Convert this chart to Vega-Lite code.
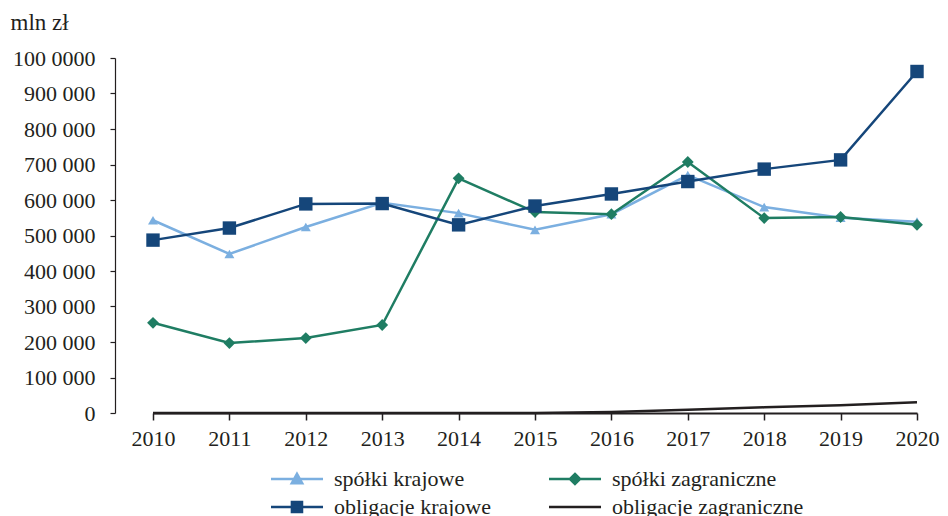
{
  "$schema": "https://vega.github.io/schema/vega-lite/v6.json",
  "autosize": "none",
  "width": 833,
  "height": 355,
  "padding": {"left": 115, "top": 58, "right": 0, "bottom": 103},
  "background": "white",
  "config": {
    "view": {"stroke": null},
    "font": "Liberation Serif",
    "axis": {"labelFont": "Liberation Serif", "titleFont": "Liberation Serif", "labelColor": "#231f20", "titleColor": "#231f20", "domainColor": "#231f20", "tickColor": "#231f20", "grid": false},
    "legend": {"labelFont": "Liberation Serif"}
  },
  "data": {
    "values": [
      {"year": "2010", "series": "spółki krajowe", "value": 543000},
      {"year": "2011", "series": "spółki krajowe", "value": 448000},
      {"year": "2012", "series": "spółki krajowe", "value": 524000},
      {"year": "2013", "series": "spółki krajowe", "value": 592000},
      {"year": "2014", "series": "spółki krajowe", "value": 563000},
      {"year": "2015", "series": "spółki krajowe", "value": 516000},
      {"year": "2016", "series": "spółki krajowe", "value": 560000},
      {"year": "2017", "series": "spółki krajowe", "value": 670000},
      {"year": "2018", "series": "spółki krajowe", "value": 580000},
      {"year": "2019", "series": "spółki krajowe", "value": 550000},
      {"year": "2020", "series": "spółki krajowe", "value": 539000},
      {"year": "2010", "series": "spółki zagraniczne", "value": 254000},
      {"year": "2011", "series": "spółki zagraniczne", "value": 197000},
      {"year": "2012", "series": "spółki zagraniczne", "value": 211000},
      {"year": "2013", "series": "spółki zagraniczne", "value": 248000},
      {"year": "2014", "series": "spółki zagraniczne", "value": 661000},
      {"year": "2015", "series": "spółki zagraniczne", "value": 566000},
      {"year": "2016", "series": "spółki zagraniczne", "value": 560000},
      {"year": "2017", "series": "spółki zagraniczne", "value": 707000},
      {"year": "2018", "series": "spółki zagraniczne", "value": 549000},
      {"year": "2019", "series": "spółki zagraniczne", "value": 552000},
      {"year": "2020", "series": "spółki zagraniczne", "value": 530000},
      {"year": "2010", "series": "obligacje krajowe", "value": 487000},
      {"year": "2011", "series": "obligacje krajowe", "value": 521000},
      {"year": "2012", "series": "obligacje krajowe", "value": 589000},
      {"year": "2013", "series": "obligacje krajowe", "value": 590000},
      {"year": "2014", "series": "obligacje krajowe", "value": 530000},
      {"year": "2015", "series": "obligacje krajowe", "value": 583000},
      {"year": "2016", "series": "obligacje krajowe", "value": 617000},
      {"year": "2017", "series": "obligacje krajowe", "value": 652000},
      {"year": "2018", "series": "obligacje krajowe", "value": 687000},
      {"year": "2019", "series": "obligacje krajowe", "value": 713000},
      {"year": "2020", "series": "obligacje krajowe", "value": 962000},
      {"year": "2010", "series": "obligacje zagraniczne", "value": 0},
      {"year": "2011", "series": "obligacje zagraniczne", "value": 0},
      {"year": "2012", "series": "obligacje zagraniczne", "value": 0},
      {"year": "2013", "series": "obligacje zagraniczne", "value": 0},
      {"year": "2014", "series": "obligacje zagraniczne", "value": 0},
      {"year": "2015", "series": "obligacje zagraniczne", "value": 0},
      {"year": "2016", "series": "obligacje zagraniczne", "value": 3000},
      {"year": "2017", "series": "obligacje zagraniczne", "value": 9000},
      {"year": "2018", "series": "obligacje zagraniczne", "value": 16000},
      {"year": "2019", "series": "obligacje zagraniczne", "value": 22000},
      {"year": "2020", "series": "obligacje zagraniczne", "value": 30000}
    ]
  },
  "encoding": {
    "x": {
      "field": "year", "type": "ordinal",
      "scale": {"type": "point", "range": [38, 802], "padding": 0},
      "axis": {"title": null, "labelAngle": 0, "labelFontSize": 22, "tickSize": 7, "labelPadding": 8, "domainWidth": 2, "tickWidth": 1.5}
    },
    "y": {
      "field": "value", "type": "quantitative",
      "scale": {"domain": [0, 1000000], "nice": false},
      "axis": {
        "values": [0, 100000, 200000, 300000, 400000, 500000, 600000, 700000, 800000, 900000, 1000000],
        "labelExpr": "datum.value == 1000000 ? '100 0000' : replace(format(datum.value, ','), ',', ' ')",
        "labelFontSize": 22, "tickSize": 5, "labelPadding": 15, "domainWidth": 1.2, "tickWidth": 1.2,
        "title": "mln zł", "titleAngle": 0, "titleFontSize": 23, "titleFontWeight": "normal", "titleLimit": 300,
        "titleAlign": "left", "titleBaseline": "alphabetic", "titleX": -105, "titleY": -29
      }
    }
  },
  "resolve": {"scale": {"color": "independent", "shape": "independent", "size": "independent"}},
  "layer": [
    {
      "mark": {"type": "line", "strokeWidth": 2.5},
      "encoding": {
        "color": {
          "field": "series", "type": "nominal", "legend": null,
          "scale": {"domain": ["obligacje zagraniczne", "obligacje krajowe", "spółki zagraniczne", "spółki krajowe"], "range": ["#231f20", "#15467a", "#1f7d63", "#7bafe0"]}
        }
      }
    },
    {
      "transform": [{"filter": "datum.series != 'obligacje zagraniczne'"}],
      "mark": {"type": "point", "filled": true, "opacity": 1},
      "encoding": {
        "color": {
          "field": "series", "type": "nominal", "legend": null,
          "scale": {"domain": ["obligacje krajowe", "spółki zagraniczne", "spółki krajowe"], "range": ["#15467a", "#1f7d63", "#7bafe0"]}
        },
        "shape": {
          "field": "series", "type": "nominal", "legend": null,
          "scale": {"domain": ["obligacje krajowe", "spółki zagraniczne", "spółki krajowe"], "range": ["square", "diamond", "triangle-up"]}
        },
        "size": {
          "field": "series", "type": "nominal", "legend": null,
          "scale": {"domain": ["obligacje krajowe", "spółki zagraniczne", "spółki krajowe"], "range": [180, 100, 150]}
        }
      }
    },
    {
      "mark": {"type": "point", "filled": true, "opacity": 0, "size": 196},
      "encoding": {
        "color": {
          "field": "series", "type": "nominal",
          "scale": {"domain": ["spółki krajowe", "spółki zagraniczne", "obligacje krajowe", "obligacje zagraniczne"], "range": ["#7bafe0", "#1f7d63", "#15467a", "#231f20"]},
          "legend": {
            "title": null, "orient": "none", "legendX": 152, "legendY": 410, "direction": "horizontal", "columns": 2,
            "columnPadding": 53, "rowPadding": 6, "labelFontSize": 22, "labelColor": "#231f20", "labelOffset": 45, "labelLimit": 400,
            "symbolSize": 196, "symbolStrokeWidth": 2.5, "symbolOpacity": 1,
            "encode": {
              "symbols": {
                "update": {
                  "opacity": {"value": 1},
                  "strokeWidth": {"value": 2.5},
                  "fill": {"signal": "datum.value === 'spółki krajowe' ? '#7bafe0' : datum.value === 'spółki zagraniczne' ? '#1f7d63' : datum.value === 'obligacje krajowe' ? '#15467a' : '#231f20'"},
                  "stroke": {"signal": "datum.value === 'spółki krajowe' ? '#7bafe0' : datum.value === 'spółki zagraniczne' ? '#1f7d63' : datum.value === 'obligacje krajowe' ? '#15467a' : '#231f20'"}
                }
              }
            }
          }
        },
        "shape": {
          "field": "series", "type": "nominal",
          "scale": {
            "domain": ["spółki krajowe", "spółki zagraniczne", "obligacje krajowe", "obligacje zagraniczne"],
            "range": [
              "M-1,0H6.43M1.96,0.62L2.71,-0.75L3.46,0.62Z",
              "M-1,0H6.43M2.71,-0.72L3.43,0L2.71,0.72L1.99,0Z",
              "M-1,0H6.43M1.99,-0.72H3.43V0.72H1.99Z",
              "M-1,0H6.43"
            ]
          },
          "legend": {"title": null}
        }
      }
    }
  ]
}
